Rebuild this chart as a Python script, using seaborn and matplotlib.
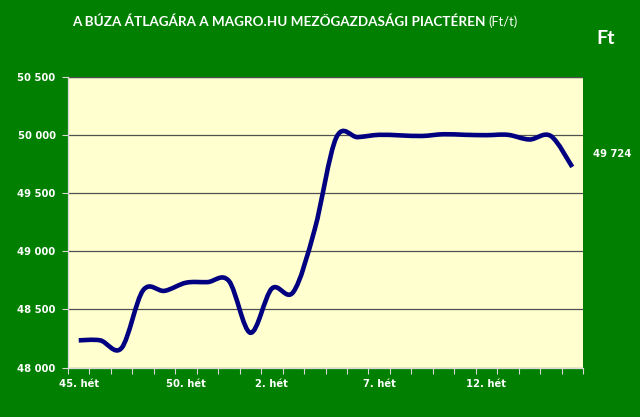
import matplotlib
matplotlib.use("Agg")
import matplotlib.pyplot as plt
import matplotlib.transforms as mtransforms
from matplotlib.path import Path
from matplotlib.patches import PathPatch
import numpy as np
import pandas as pd
import seaborn as sns

# Weekly wheat prices (Ft/t), week 45 to week 16
weeks = ["45. hét", "46. hét", "47. hét", "48. hét", "49. hét", "50. hét",
         "51. hét", "52. hét", "1. hét", "2. hét", "3. hét", "4. hét",
         "5. hét", "6. hét", "7. hét", "8. hét", "9. hét", "10. hét",
         "11. hét", "12. hét", "13. hét", "14. hét", "15. hét", "16. hét"]
prices = [48235, 48235, 48170, 48665, 48660, 48730, 48735, 48745,
          48300, 48680, 48650, 49190, 49975, 49980, 50000, 49995,
          49990, 50005, 50000, 49997, 50000, 49960, 49990, 49724]
shown_weeks = ["45. hét", "50. hét", "2. hét", "7. hét", "12. hét"]
y_ticks = [48000, 48500, 49000, 49500, 50000, 50500]
last_label = "49 724"

green = "#007f00"
paper = "#ffffd0"
navy = "#000080"

df = pd.DataFrame({"week": weeks, "price": prices})
df["pos"] = np.arange(len(df))

sns.set_style("white")
plt.rcParams["font.family"] = ["DejaVu Sans"]

fig = plt.figure(figsize=(6.4, 4.17), dpi=100, facecolor=green)
ax = fig.add_axes([68 / 640, 1 - 367.7 / 417, (583 - 68) / 640, (367.7 - 76.6) / 417])
ax.set_facecolor(paper)

sns.lineplot(data=df, x="pos", y="price", ax=ax, color=navy, linewidth=3.3)

# Excel-style smoothed line: cubic Bezier through the data points
line = ax.lines[0]
pts = line.get_xydata()
line.set_visible(False)
verts = [tuple(pts[0])]
codes = [Path.MOVETO]
n = len(pts)
for i in range(n - 1):
    p0 = pts[max(i - 1, 0)]
    p1 = pts[i]
    p2 = pts[i + 1]
    p3 = pts[min(i + 2, n - 1)]
    c1 = p1 + (p2 - p0) / 6
    c2 = p2 - (p3 - p1) / 6
    verts += [tuple(c1), tuple(c2), tuple(p2)]
    codes += [Path.CURVE4] * 3
ax.add_patch(PathPatch(Path(verts, codes), facecolor="none", edgecolor=navy,
                       linewidth=3.3, capstyle="butt", joinstyle="round", zorder=3))

ax.set_xlim(-0.5, len(weeks) - 0.5)
ax.set_ylim(y_ticks[0], y_ticks[-1])

# tick marks between categories, labels every fifth week
ax.set_xticks(np.arange(len(weeks) + 1) - 0.5)
ax.set_xticklabels([])
ax.set_xticks([weeks.index(w) for w in shown_weeks], minor=True)
ax.set_xticklabels(shown_weeks, minor=True)
ax.tick_params(axis="x", which="major", direction="out", length=4, width=0.8,
               color="#d8d8d8", bottom=True)
ax.tick_params(axis="x", which="minor", length=0, pad=8, labelsize=7.2,
               labelcolor="white")
for t in ax.get_xticklabels(minor=True):
    t.set_fontweight("bold")

ax.set_yticks(y_ticks)
ax.set_yticklabels([f"{v:,}".replace(",", " ") for v in y_ticks])
ax.tick_params(axis="y", direction="out", length=4, width=0.8, color="#d8d8d8",
               left=True, pad=5, labelsize=7.2, labelcolor="white")
for t in ax.get_yticklabels():
    t.set_fontweight("bold")

ax.set_xlabel("")
ax.set_ylabel("")
ax.grid(axis="y", color="#505050", linewidth=0.9)
ax.grid(axis="x", visible=False)
ax.set_axisbelow(True)
for side in ["top", "right"]:
    ax.spines[side].set_visible(False)
for side in ["left", "bottom"]:
    ax.spines[side].set_color("#d8d8d8")
    ax.spines[side].set_linewidth(0.9)
ax.axhline(y_ticks[-1], color="#505050", linewidth=0.9, zorder=1)

trans = mtransforms.blended_transform_factory(ax.transAxes, ax.transData)
ax.annotate(last_label, xy=(1, prices[-1]), xycoords=trans, xytext=(7, 9.5),
            textcoords="offset points", ha="left", va="center", color="white",
            fontsize=7.2, fontweight="bold")

# title, with the unit in smaller regular type right after it
title = fig.text(72 / 640, 1 - 22 / 417, "A BÚZA ÁTLAGÁRA A MAGRO.HU MEZŐGAZDASÁGI PIACTÉREN",
                 ha="left", va="center", color="white", fontsize=9.7, fontweight="bold",
                 family=["Lato", "DejaVu Sans"])
fig.canvas.draw()
bb = title.get_window_extent()
x_end, y_base = fig.transFigure.inverted().transform((bb.x1 + 3, bb.y0 + 0.5))
fig.text(x_end, y_base, "(Ft/t)", ha="left", va="bottom", color="white", fontsize=9.3,
         family=["Lato", "DejaVu Sans"])
fig.text(606 / 640, 1 - 38 / 417, "Ft", ha="center", va="center", color="white",
         fontsize=14, fontweight="bold", family=["Lato", "DejaVu Sans"])

fig.savefig("out.png", dpi=100, facecolor=green)
